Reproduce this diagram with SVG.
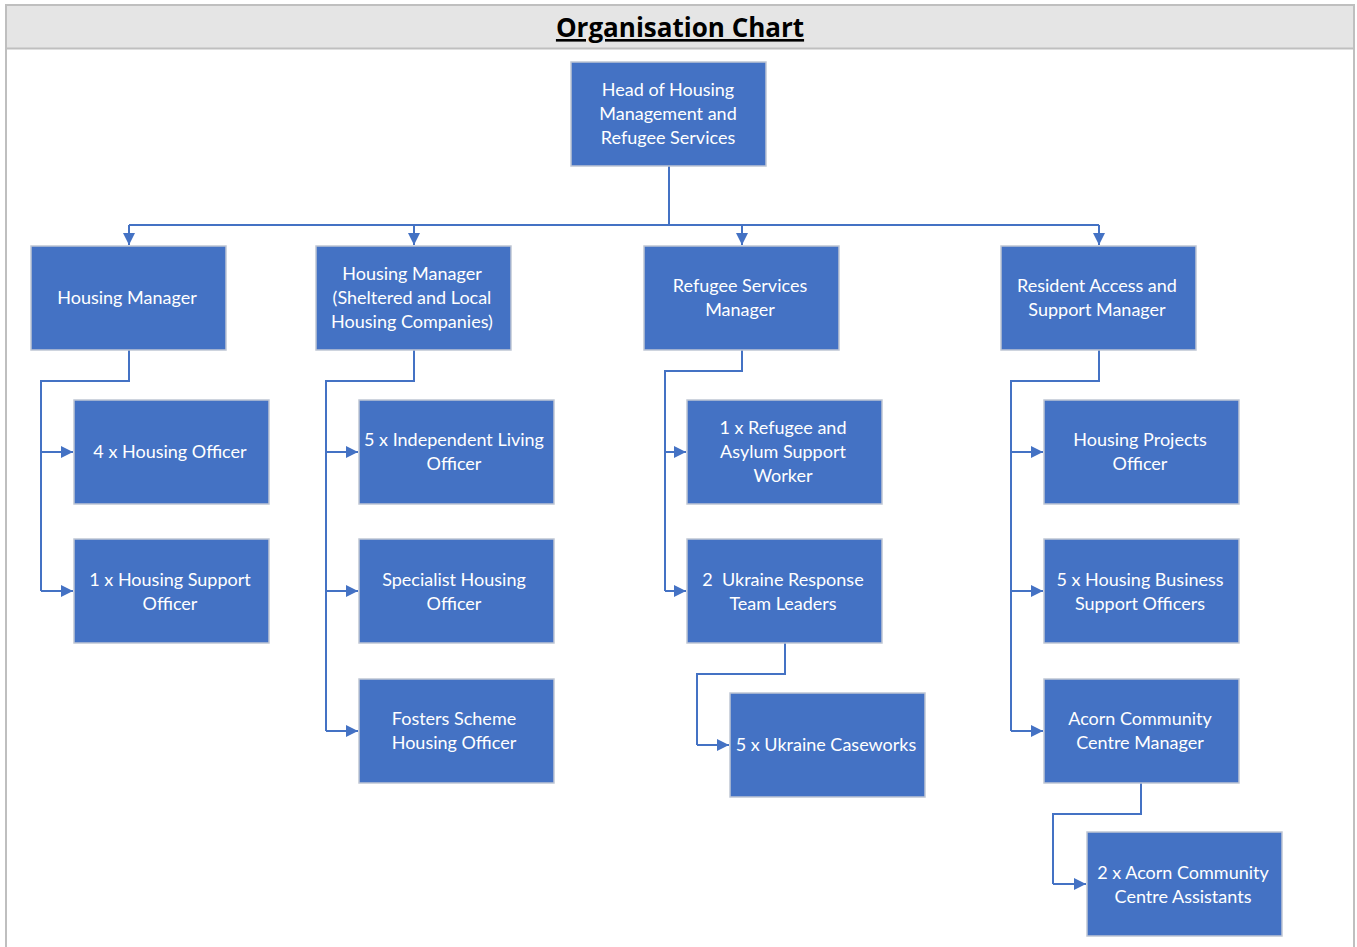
<svg xmlns="http://www.w3.org/2000/svg" width="1357" height="947" viewBox="0 0 1357 947">
<defs>
<marker id="arr" viewBox="0 0 12 12" refX="12" refY="6" markerWidth="12" markerHeight="12" markerUnits="userSpaceOnUse" orient="auto">
<path d="M0,0 L12,6 L0,12 z" fill="#4472c4"/>
</marker>
<style>
.node rect{fill:#4472c4;stroke:#bfc6d4;stroke-width:1.5}
.node text{fill:#ffffff;font-family:Lato,"Liberation Sans",sans-serif;font-size:18px;text-anchor:middle;white-space:pre}
.conn path{fill:none;stroke:#4472c4;stroke-width:2}
.title{font-family:"Open Sans","Liberation Sans",sans-serif;font-weight:bold;font-size:26px;text-anchor:middle;text-decoration:underline;fill:#000}
</style>
</defs>
<rect x="0" y="0" width="1357" height="947" fill="#ffffff"/>
<rect x="6" y="5" width="1348" height="44" fill="#e5e5e5"/>
<path d="M6,947 V5 H1354 V947 M6,48.5 H1354" fill="none" stroke="#bfbfbf" stroke-width="2"/>
<text class="title" x="680" y="37">Organisation Chart</text>

<g class="conn">
<path d="M669,166 V225"/>
<path d="M129,225 H1099"/>
<path d="M129,225 V245" marker-end="url(#arr)"/>
<path d="M414,225 V245" marker-end="url(#arr)"/>
<path d="M742,225 V245" marker-end="url(#arr)"/>
<path d="M1099,225 V245" marker-end="url(#arr)"/>

<path d="M129,350 V381 H41 V591"/>
<path d="M41,452 H73" marker-end="url(#arr)"/>
<path d="M41,591 H73" marker-end="url(#arr)"/>

<path d="M414,350 V381 H326 V731"/>
<path d="M326,452 H358" marker-end="url(#arr)"/>
<path d="M326,591 H358" marker-end="url(#arr)"/>
<path d="M326,731 H358" marker-end="url(#arr)"/>

<path d="M742,350 V371 H665 V591"/>
<path d="M665,452 H686" marker-end="url(#arr)"/>
<path d="M665,591 H686" marker-end="url(#arr)"/>

<path d="M785,643 V674 H697 V745"/>
<path d="M697,745 H729" marker-end="url(#arr)"/>

<path d="M1099,350 V381 H1011 V731"/>
<path d="M1011,452 H1043" marker-end="url(#arr)"/>
<path d="M1011,591 H1043" marker-end="url(#arr)"/>
<path d="M1011,731 H1043" marker-end="url(#arr)"/>

<path d="M1141,783 V814 H1053 V884"/>
<path d="M1053,884 H1086" marker-end="url(#arr)"/>
</g>

<g id="head" class="node"><rect x="571" y="62" width="195" height="104"/>
<text x="668"><tspan x="668" y="96">Head of Housing</tspan><tspan x="668" y="120">Management and</tspan><tspan x="668" y="144">Refugee Services</tspan></text></g>

<g id="hm" class="node"><rect x="31" y="246" width="195" height="104"/>
<text x="127" y="304">Housing Manager</text></g>
<g id="hms" class="node"><rect x="316" y="246" width="195" height="104"/>
<text><tspan x="412" y="280">Housing Manager</tspan><tspan x="412" y="304">(Sheltered and Local</tspan><tspan x="412" y="328">Housing Companies)</tspan></text></g>
<g id="rsm" class="node"><rect x="644" y="246" width="195" height="104"/>
<text><tspan x="740" y="292">Refugee Services</tspan><tspan x="740" y="316">Manager</tspan></text></g>
<g id="rasm" class="node"><rect x="1001" y="246" width="195" height="104"/>
<text><tspan x="1097" y="292">Resident Access and</tspan><tspan x="1097" y="316">Support Manager</tspan></text></g>

<g id="ho" class="node"><rect x="74" y="400" width="195" height="104"/>
<text x="170" y="458">4 x Housing Officer</text></g>
<g id="hso" class="node"><rect x="74" y="539" width="195" height="104"/>
<text><tspan x="170" y="586">1 x Housing Support</tspan><tspan x="170" y="610">Officer</tspan></text></g>

<g id="ilo" class="node"><rect x="359" y="400" width="195" height="104"/>
<text><tspan x="454" y="446">5 x Independent Living</tspan><tspan x="454" y="470">Officer</tspan></text></g>
<g id="sho" class="node"><rect x="359" y="539" width="195" height="104"/>
<text><tspan x="454" y="586">Specialist Housing</tspan><tspan x="454" y="610">Officer</tspan></text></g>
<g id="fsho" class="node"><rect x="359" y="679" width="195" height="104"/>
<text><tspan x="454" y="725">Fosters Scheme</tspan><tspan x="454" y="749">Housing Officer</tspan></text></g>

<g id="rasw" class="node"><rect x="687" y="400" width="195" height="104"/>
<text><tspan x="783" y="434">1 x Refugee and</tspan><tspan x="783" y="458">Asylum Support</tspan><tspan x="783" y="482">Worker</tspan></text></g>
<g id="urtl" class="node"><rect x="687" y="539" width="195" height="104"/>
<text xml:space="preserve"><tspan x="783" y="586">2  Ukraine Response</tspan><tspan x="783" y="610">Team Leaders</tspan></text></g>
<g id="ucw" class="node"><rect x="730" y="693" width="195" height="104"/>
<text x="826" y="751">5 x Ukraine Caseworks</text></g>

<g id="hpo" class="node"><rect x="1044" y="400" width="195" height="104"/>
<text><tspan x="1140" y="446">Housing Projects</tspan><tspan x="1140" y="470">Officer</tspan></text></g>
<g id="hbso" class="node"><rect x="1044" y="539" width="195" height="104"/>
<text><tspan x="1140" y="586">5 x Housing Business</tspan><tspan x="1140" y="610">Support Officers</tspan></text></g>
<g id="accm" class="node"><rect x="1044" y="679" width="195" height="104"/>
<text><tspan x="1140" y="725">Acorn Community</tspan><tspan x="1140" y="749">Centre Manager</tspan></text></g>
<g id="acca" class="node"><rect x="1087" y="832" width="195" height="104"/>
<text><tspan x="1183" y="879">2 x Acorn Community</tspan><tspan x="1183" y="903">Centre Assistants</tspan></text></g>
</svg>
